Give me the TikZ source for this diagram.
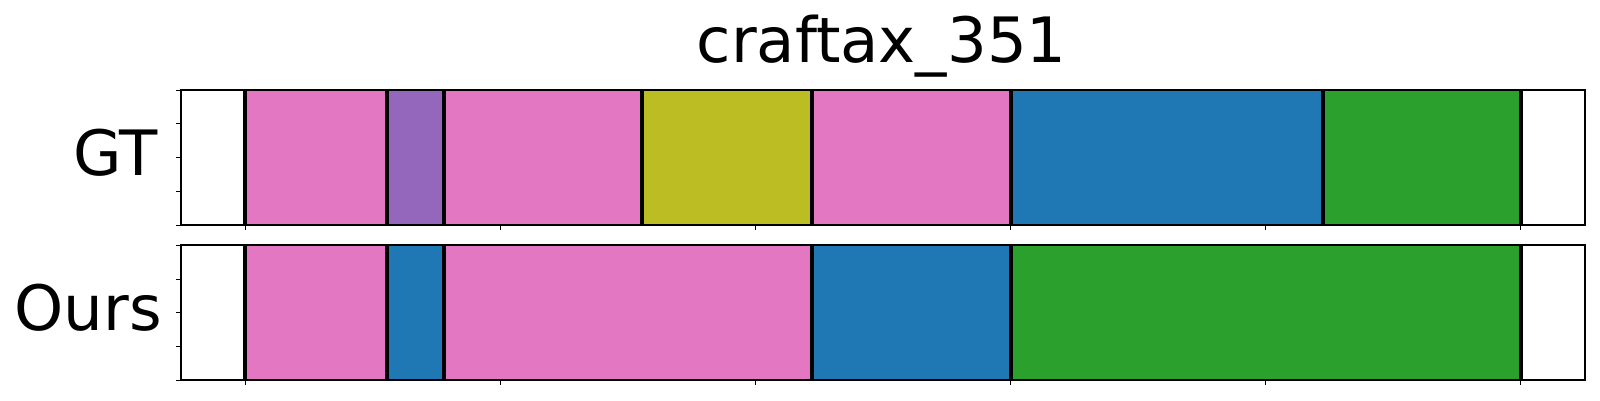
\documentclass[tikz,border=0pt]{standalone}
\usepackage{fontspec}
\setmainfont{DejaVu Sans}

\definecolor{tabpink}{HTML}{E377C2}
\definecolor{tabpurple}{HTML}{9467BD}
\definecolor{tabolive}{HTML}{BCBD22}
\definecolor{tabblue}{HTML}{1F77B4}
\definecolor{tabgreen}{HTML}{2CA02C}

\begin{document}
\begin{tikzpicture}[x=0.1mm, y=-0.1mm,
  boundary/.style={line width=0.4mm},
  spine/.style={line width=0.17mm},
  tick/.style={line width=0.1mm},
  label text/.style={inner sep=0, font=\fontsize{17.8}{20}\selectfont}]

\useasboundingbox (0,0) rectangle (1600,400);

% frame f sits at 245.4 + 28.35*f
\foreach \a/\b/\c in {0/5/tabpink, 5/7/tabpurple, 7/14/tabpink, 14/20/tabolive,
                      20/27/tabpink, 27/38/tabblue, 38/45/tabgreen}
  \fill [\c] ({245.4+28.35*\a},90) rectangle ({245.4+28.35*\b},225);

\foreach \a/\b/\c in {0/5/tabpink, 5/7/tabblue, 7/20/tabpink, 20/27/tabblue, 27/45/tabgreen}
  \fill [\c] ({245.4+28.35*\a},245.3) rectangle ({245.4+28.35*\b},380.3);

\foreach \f in {0,5,7,14,20,27,38,45}
  \draw [boundary] ({245.4+28.35*\f},90) -- ({245.4+28.35*\f},225);

\foreach \f in {0,5,7,20,27,45}
  \draw [boundary] ({245.4+28.35*\f},245.3) -- ({245.4+28.35*\f},380.3);

\foreach \t/\b in {90/225, 245.3/380.3} {
  \draw [spine] (181,\t) rectangle (1585,\b);
  \foreach \k in {0,...,4}
    \draw [tick] (181,{\t+33.75*\k}) -- ++(-5,0);
  \foreach \k in {0,...,5}
    \draw [tick] ({245.4+255.1*\k},\b) -- ++(0,5);
}

\node [label text, anchor=base] (title) at (881.6,62.3) {craftax\_351};
\node [label text, anchor=base east] (gt) at (158.5,175) {GT};
\node [label text, anchor=base east] (ours) at (162.5,330.7) {Ours};

\end{tikzpicture}
\end{document}
